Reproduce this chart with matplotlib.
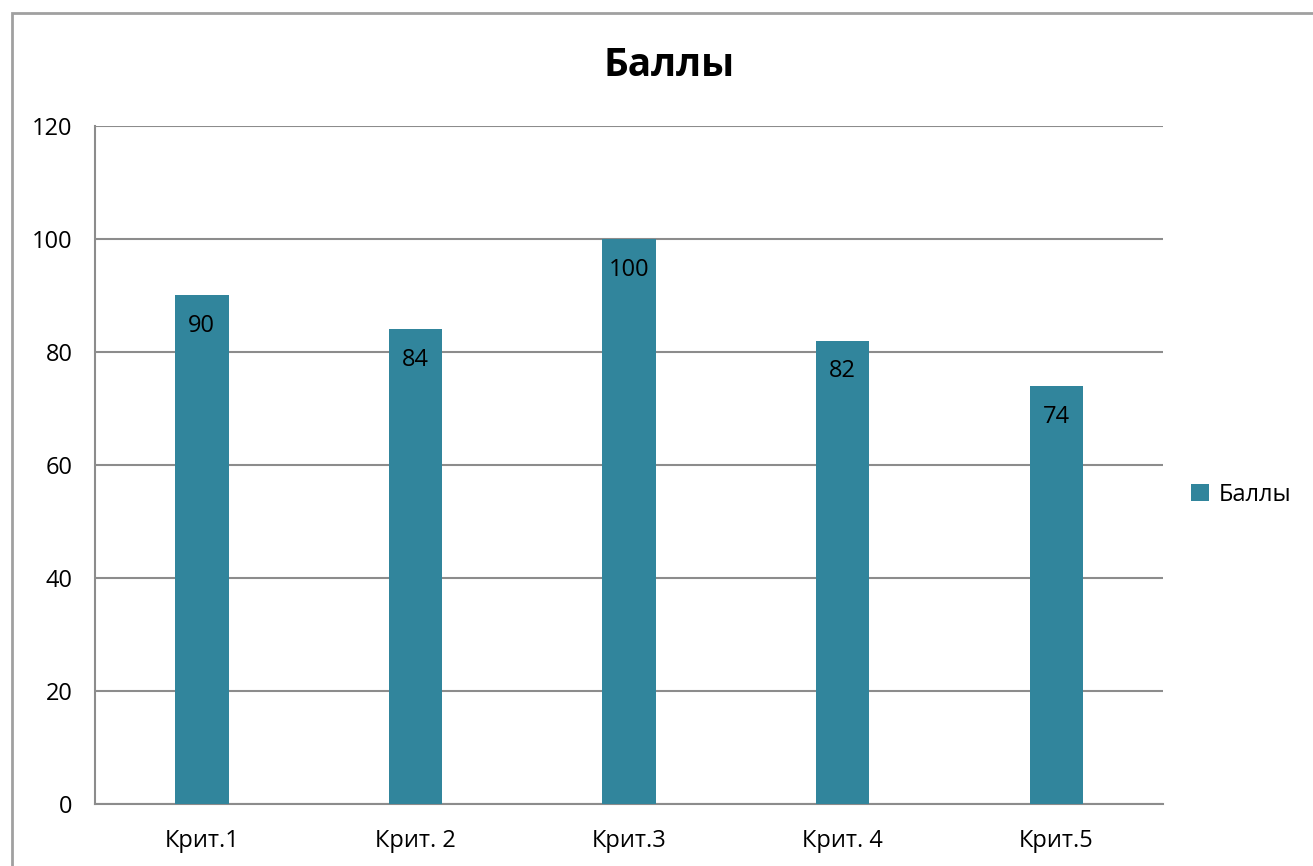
import matplotlib
matplotlib.use("Agg")
import matplotlib.pyplot as plt
from matplotlib.patches import Rectangle

categories = ["Крит.1", "Крит. 2", "Крит.3", "Крит. 4", "Крит.5"]
values = [90, 84, 100, 82, 74]
yticks = [0, 20, 40, 60, 80, 100, 120]
series_name = "Баллы"
title = "Баллы"

plt.rcParams['font.family'] = ['Open Sans', 'DejaVu Sans']

W, H = 1313, 866
fig = plt.figure(figsize=(W/100, H/100), dpi=100)
fig.patch.set_facecolor("white")

# outer chart border
fig.patches.append(Rectangle((12/W, -0.05), 1.2, 1 - 13/H + 0.05, transform=fig.transFigure,
                             fill=False, edgecolor="#a0a0a0", linewidth=2, zorder=0))

ax = fig.add_axes([95/W, 1 - 804/H, (1163-95)/W, (804-126)/H])
color = "#31859C"
x = range(len(categories))
bars = ax.bar(x, values, width=0.25, color=color, label=series_name, zorder=3)
ax.set_xlim(-0.5, len(categories) - 0.5)
ax.set_ylim(0, 120)
ax.set_yticks(yticks)
ax.set_yticklabels([str(t) for t in yticks], fontsize=17)
ax.set_xticks(list(x))
ax.set_xticklabels(categories, fontsize=17)
ax.tick_params(axis='both', length=0)
ax.tick_params(axis='y', pad=16)
ax.tick_params(axis='x', pad=18)
ax.grid(axis='y', color="#8c8c8c", linewidth=1.5, zorder=0)
for s in ["top", "right"]:
    ax.spines[s].set_visible(False)
for s in ["left", "bottom"]:
    ax.spines[s].set_color("#8c8c8c")
    ax.spines[s].set_linewidth(1.5)

for xi, v in zip(x, values):
    ax.text(xi, v - 3.3, str(v), ha='center', va='top', fontsize=17, color='black', zorder=4)

fig.text(669/W, 1 - 66/H, title, ha='center', va='center', fontsize=28, fontweight='bold')

leg = fig.legend(handles=[bars], labels=[series_name], loc='center left',
                 bbox_to_anchor=(1170/W, 1 - 495/H), frameon=False, fontsize=17,
                 handlelength=0.75, handleheight=0.75, handletextpad=0.4)

fig.savefig("out.png", dpi=100)
